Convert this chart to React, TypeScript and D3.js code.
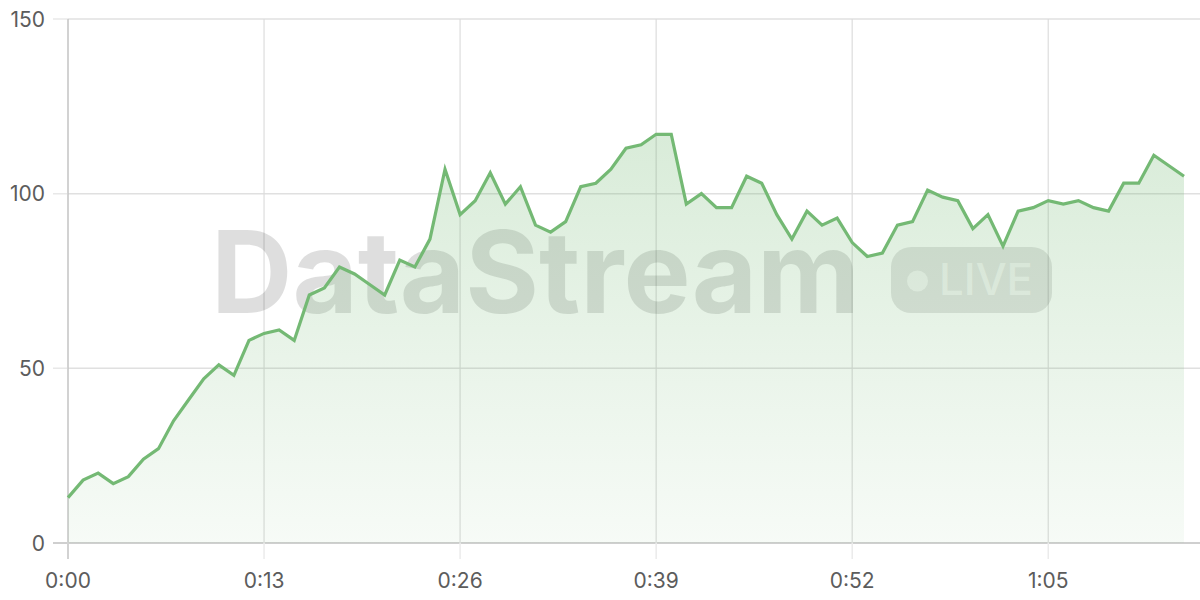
import React from "react";
import * as d3 from "d3";

const seconds: number[] = Array.from({ length: 75 }, (_, i) => i);
const values: number[] = [
  13, 18, 20, 17, 19, 24, 27, 35, 41, 47,
  51, 48, 58, 60, 61, 58, 71, 73, 79, 77,
  74, 71, 81, 79, 87, 107, 94, 98, 106, 97,
  102, 91, 89, 92, 102, 103, 107, 113, 114, 117,
  117, 97, 100, 96, 96, 105, 103, 94, 87, 95,
  91, 93, 86, 82, 83, 91, 92, 101, 99, 98,
  90, 94, 85, 95, 96, 98, 97, 98, 96, 95,
  103, 103, 111, 108, 105,
];
const xTicks: number[] = [0, 13, 26, 39, 52, 65];
const yTicks: number[] = [0, 50, 100, 150];

const W = 1200;
const H = 600;
const FONT = "Inter, 'Noto Sans', sans-serif";

function fmt(s: number) {
  const m = Math.floor(s / 60);
  const ss = s % 60;
  return `${m}:${ss < 10 ? "0" + ss : ss}`;
}

export default function App() {
  const x = d3.scaleLinear().domain([0, 74]).range([68, 1184]);
  const y = d3.scaleLinear().domain([0, 150]).range([543, 19]);
  const data = seconds.map((s, i) => ({ s, v: values[i] }));
  const line = d3
    .line<{ s: number; v: number }>()
    .x((d) => x(d.s))
    .y((d) => y(d.v));
  const area = d3
    .area<{ s: number; v: number }>()
    .x((d) => x(d.s))
    .y0(y(0))
    .y1((d) => y(d.v));

  return (
    <svg
      width={W}
      height={H}
      style={{ position: "absolute", left: 0, top: 0, background: "#fff" }}
    >
      <defs>
        <linearGradient id="fillg" x1="0" y1={y(120)} x2="0" y2={y(0)} gradientUnits="userSpaceOnUse">
          <stop offset="0" stopColor="#74b974" stopOpacity={0.28} />
          <stop offset="1" stopColor="#74b974" stopOpacity={0.06} />
        </linearGradient>
      </defs>
      <rect x={0} y={0} width={W} height={H} fill="#fff" />
      {/* grid */}
      {yTicks.map((t) => (
        <line
          key={"gy" + t}
          x1={53}
          x2={W}
          y1={y(t)}
          y2={y(t)}
          stroke={t === 0 ? "#cfcfcf" : "#e8e8e8"}
          strokeWidth={t === 0 ? 2 : 1.5}
        />
      ))}
      {xTicks.map((t) => (
        <line
          key={"gx" + t}
          x1={x(t)}
          x2={x(t)}
          y1={19}
          y2={559}
          stroke={t === 0 ? "#d2d2d2" : "#ebebeb"}
          strokeWidth={t === 0 ? 2 : 1.5}
        />
      ))}
      {/* watermark */}
      <g>
        <text
          x={211}
          y={313}
          fontFamily={FONT}
          fontWeight={700}
          fontSize={114}
          textLength={649}
          lengthAdjust="spacingAndGlyphs"
          fill="rgba(0,0,0,0.13)"
        >
          DataStream
        </text>
        <rect x={891} y={247} width={161} height={66} rx={20} ry={20} fill="rgba(0,0,0,0.11)" />
        <circle cx={917.5} cy={281} r={10.5} fill="rgba(255,255,255,0.6)" />
        <text
          x={939}
          y={295}
          fontFamily={FONT}
          fontWeight={500}
          fontSize={44}
          textLength={94}
          lengthAdjust="spacingAndGlyphs"
          fill="rgba(255,255,255,0.6)"
        >
          LIVE
        </text>
      </g>
      <path d={area(data) || ""} fill="url(#fillg)" />
      {xTicks.map((t) =>
        t === 0 ? null : (
          <line key={"gx2" + t} x1={x(t)} x2={x(t)} y1={19} y2={543} stroke="rgba(0,0,0,0.03)" strokeWidth={1.5} />
        )
      )}
      {yTicks.map((t) =>
        t === 0 ? null : (
          <line key={"gy2" + t} x1={68} x2={W} y1={y(t)} y2={y(t)} stroke="rgba(0,0,0,0.03)" strokeWidth={1.5} />
        )
      )}
      <path d={line(data) || ""} fill="none" stroke="#74b974" strokeWidth={3.2} strokeLinejoin="miter" />
      {/* tick labels */}
      {yTicks.map((t) => (
        <text
          key={"ly" + t}
          x={45}
          y={y(t)}
          dy="0.36em"
          textAnchor="end"
          fontFamily={FONT}
          fontSize={21}
          fill="#5c5c5c"
        >
          {t}
        </text>
      ))}
      {xTicks.map((t) => (
        <text
          key={"lx" + t}
          x={x(t)}
          y={588}
          textAnchor="middle"
          fontFamily={FONT}
          fontSize={21}
          fill="#5c5c5c"
        >
          {fmt(t)}
        </text>
      ))}
    </svg>
  );
}
